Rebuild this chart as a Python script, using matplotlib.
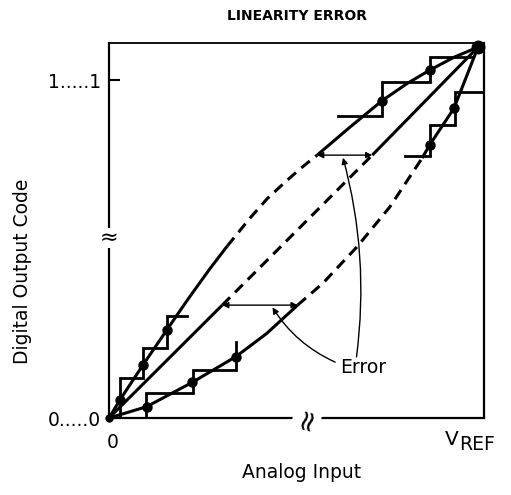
import matplotlib
matplotlib.use('Agg')
import matplotlib.pyplot as plt

# ---- data (units: percent of full scale) ----
ideal_x = [0, 30.2, 70.2, 98.4]
ideal_y = [0, 30.1, 70.1, 98.9]
ideal_dash = (1, 2)

upper_x = [0, 2.9, 9.1, 15.5, 21.0, 26.9, 31.5, 37.6, 42.1, 46.4, 50.9, 55.5, 64.3, 72.8, 79.5, 85.6, 92.0, 98.4]
upper_y = [0, 4.8, 14.2, 23.6, 31.6, 39.8, 45.8, 53.3, 58.4, 62.4, 66.4, 70.1, 77.6, 84.6, 89.2, 92.8, 96.2, 98.9]
upper_dash = (6, 11)

lower_x = [0, 10.0, 22.2, 33.9, 42.0, 50.3, 57.1, 66.1, 74.9, 83.5, 85.5, 92.0, 98.4]
lower_y = [0, 3.0, 9.5, 16.4, 22.5, 30.1, 36.0, 45.6, 56.3, 69.3, 72.8, 82.6, 98.9]
lower_dash = (5, 9)

upper_lo_step_x = [2.9, 2.9, 9.1, 9.1, 15.5, 15.5, 20.8]
upper_lo_step_y = [0, 10.7, 10.7, 18.7, 18.7, 27.2, 27.2]
upper_hi_step_x = [61.1, 72.8, 72.8, 85.6, 85.6, 96.8]
upper_hi_step_y = [80.5, 80.5, 89.6, 89.6, 96.3, 96.3]
lower_lo_step_x = [9.9, 9.9, 22.4, 22.4, 33.9, 33.9]
lower_lo_step_y = [0, 6.7, 6.7, 12.8, 12.8, 20.3]
lower_hi_step_x = [78.9, 85.6, 85.6, 92.3, 92.3, 100]
lower_hi_step_y = [69.9, 69.9, 78.1, 78.1, 86.9, 86.9]

upper_dot_x = [2.9, 9.1, 15.5, 72.8, 85.6]
upper_dot_y = [4.8, 14.2, 23.6, 84.6, 92.8]
lower_dot_x = [10.0, 22.2, 33.9, 85.5, 92.0]
lower_dot_y = [3.0, 9.5, 16.4, 72.8, 82.6]

err_y = [30.1, 70.1]
err_x0 = [30.2, 55.5]
err_x1 = [50.3, 70.2]

leader_start = [(60.3, 14.9), (66.0, 16.3)]
leader_end = [(43.6, 29.5), (62.4, 69.4)]
leader_rad = [-0.15, 0.1]

ytick_pos = [0, 90.1]
ytick_lab = ['0.....0', '1.....1']

FONT = 'DejaVu Sans'
FS = 13.5
LW = 2.2
DASH = (0, (3.6, 2.3))

fig = plt.figure(figsize=(5.11, 4.95), dpi=100)
ax = fig.add_axes([109/511, 77/495, 375/511, 375/495])
ax.set_xlim(0, 100)
ax.set_ylim(0, 100)

def draw_split(xs, ys, rng):
    a, b = rng
    ax.plot(xs[:a+1], ys[:a+1], color='black', lw=LW, solid_capstyle='butt',
            solid_joinstyle='round')
    ax.plot(xs[a:b+1], ys[a:b+1], color='black', lw=LW, linestyle=DASH,
            dash_capstyle='butt')
    ax.plot(xs[b:], ys[b:], color='black', lw=LW, solid_capstyle='butt',
            solid_joinstyle='round', clip_on=False)

draw_split(ideal_x, ideal_y, ideal_dash)
draw_split(upper_x, upper_y, upper_dash)
draw_split(lower_x, lower_y, lower_dash)

for sx, sy in [(upper_lo_step_x, upper_lo_step_y), (upper_hi_step_x, upper_hi_step_y),
               (lower_lo_step_x, lower_lo_step_y), (lower_hi_step_x, lower_hi_step_y)]:
    ax.plot(sx, sy, color='black', lw=2.0, solid_joinstyle='miter')

ax.plot(upper_dot_x, upper_dot_y, 'o', color='black', ms=6.5)
ax.plot(lower_dot_x, lower_dot_y, 'o', color='black', ms=6.5)
ax.plot([ideal_x[-1]], [ideal_y[-1]], 'o', color='black', ms=9, clip_on=False)
ax.plot([0], [0], 'o', color='black', ms=5, clip_on=False)

for y, x0, x1 in zip(err_y, err_x0, err_x1):
    ax.annotate('', xy=(x1, y), xytext=(x0, y),
                arrowprops=dict(arrowstyle='<|-|>', color='black', lw=1.0,
                                mutation_scale=9, shrinkA=0, shrinkB=0))

for s, e, r in zip(leader_start, leader_end, leader_rad):
    ax.annotate('', xy=e, xytext=s,
                arrowprops=dict(arrowstyle='-|>', color='black', lw=1.0,
                                mutation_scale=9, shrinkA=0, shrinkB=0,
                                connectionstyle=f'arc3,rad={r}'))

ax.text(61.6, 12.0, 'Error', fontsize=FS, family=FONT, ha='left', va='baseline')

for sp in ax.spines.values():
    sp.set_linewidth(1.6)
ax.spines['top'].set_linewidth(1.3)

ax.set_yticks(ytick_pos)
ax.set_yticklabels(ytick_lab, fontsize=FS, family=FONT)
ax.tick_params(axis='y', direction='in', length=8, width=1.5, pad=6)
ax.set_xticks([])

# x-axis end labels
ax.text(1.0, -4.0, '0', fontsize=FS, family=FONT, ha='center', va='top')
ax.text(89.6, -7.2, 'V', fontsize=FS + 1, family=FONT, ha='left', va='baseline')
ax.text(93.4, -8.5, 'REF', fontsize=FS, family=FONT, ha='left', va='baseline')

# axis break marks
ax.text(0, 48.0, '\u2248', fontsize=16, family=FONT, ha='center', va='center',
        clip_on=False, bbox=dict(facecolor='white', edgecolor='none', pad=0))
ax.text(52.8, 0, '\u2248', fontsize=21, family=FONT, ha='center', va='center',
        rotation=75, clip_on=False,
        bbox=dict(facecolor='white', edgecolor='none', pad=0))

fig.text(297/511, 1 - 20/495, 'LINEARITY ERROR', fontsize=10, family=FONT,
         fontweight='bold', ha='center', va='baseline')
fig.text(302/511, 1 - 478/495, 'Analog Input', fontsize=FS, family=FONT,
         ha='center', va='baseline')
fig.text(23/511, 1 - 271/495, 'Digital Output Code', fontsize=FS, family=FONT,
         rotation=90, ha='center', va='center')

fig.savefig('out.png', dpi=100)
